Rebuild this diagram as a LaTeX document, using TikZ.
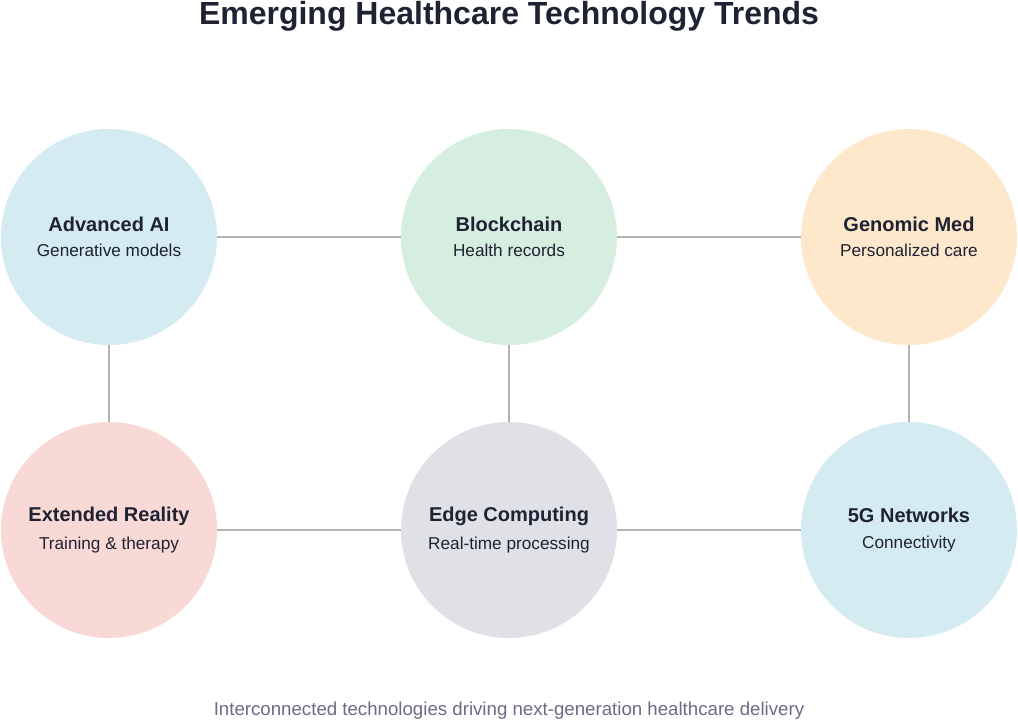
\documentclass[tikz,border=0pt]{standalone}
\usepackage{xcolor}
\usepackage{fontspec}
\setmainfont{Liberation Sans}
\usepackage{tikz}
\usetikzlibrary{calc}
\usetikzlibrary{positioning}
\definecolor{inkdark}{HTML}{1E2232}
\definecolor{capgray}{HTML}{6A6B85}
\definecolor{linkgray}{HTML}{B3B3B3}
\definecolor{fillblue}{HTML}{D5EBF2}
\definecolor{fillgreen}{HTML}{D5EEE0}
\definecolor{fillpeach}{HTML}{FDE8CC}
\definecolor{fillpink}{HTML}{F9D9D6}
\definecolor{fillgray}{HTML}{E0E1E6}
\tikzstyle{trend} = [circle, draw=none, inner sep = 0, minimum size = 162pt, align=center, text = inkdark]
\tikzstyle{link} = [-, draw = linkgray, line width = 1.8pt]
\newcommand{\trendtext}[2]{{\fontsize{15}{17}\selectfont\bfseries #1}\\[7pt]{\fontsize{12.9}{15}\selectfont #2}}

\begin{document}
\begin{tikzpicture}[x=0.75pt, y=-0.75pt]
\useasboundingbox (0, 0) rectangle (1018, 721);
\node [draw=none, text = inkdark] (T) at (509, 16) {\fontsize{24}{27}\selectfont\bfseries Emerging Healthcare Technology Trends};
\node [trend, fill = fillblue]  (AI) at (109, 237) {\trendtext{Advanced AI}{Generative models}};
\node [trend, fill = fillgreen] (BC) at (509, 237) {\trendtext{Blockchain}{Health records}};
\node [trend, fill = fillpeach] (GM) at (909, 237) {\trendtext{Genomic Med}{Personalized care}};
\node [trend, fill = fillpink]  (XR) at (109, 530) {\trendtext{Extended Reality}{Training \& therapy}};
\node [trend, fill = fillgray]  (EC) at (509, 530) {\trendtext{Edge Computing}{Real-time processing}};
\node [trend, fill = fillblue]  (FG) at (909, 530) {\trendtext{5G Networks}{Connectivity}};
\draw [link] (AI) to (BC);
\draw [link] (BC) to (GM);
\draw [link] (XR) to (EC);
\draw [link] (EC) to (FG);
\draw [link] (AI) to (XR);
\draw [link] (BC) to (EC);
\draw [link] (GM) to (FG);
\node [draw=none, text = capgray] (C) at (509, 711) {\fontsize{14}{16}\selectfont Interconnected technologies driving next-generation healthcare delivery};
\end{tikzpicture}
\end{document}
